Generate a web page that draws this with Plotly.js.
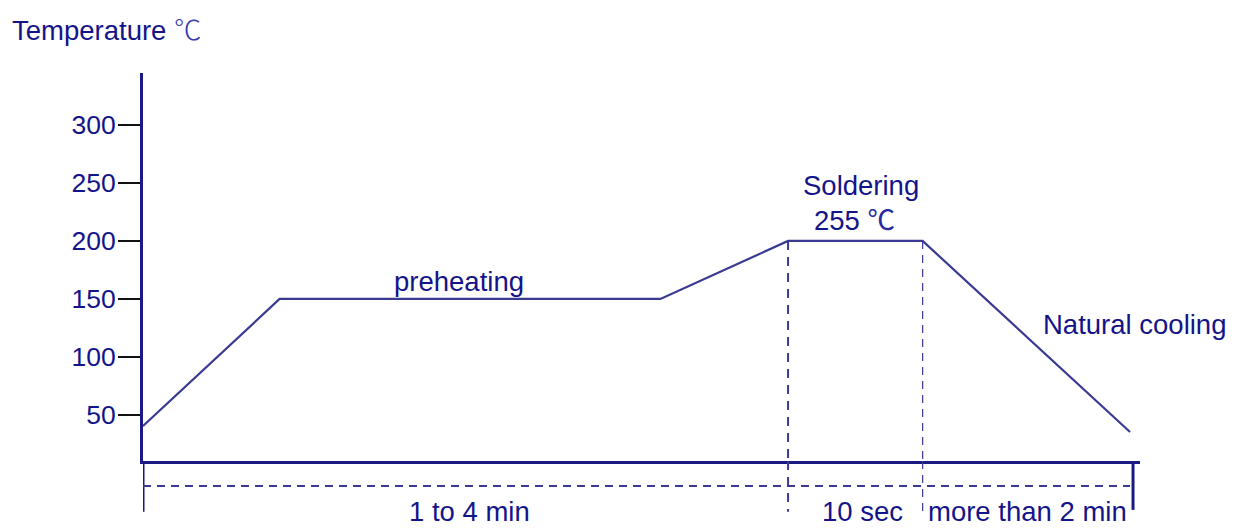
<!DOCTYPE html>
<html>
<head>
<meta charset="utf-8">
<script src="https://cdn.plot.ly/plotly-3.0.1.min.js"></script>
<style>html,body{margin:0;padding:0;background:#fff;}#chart{width:1236px;height:529px;}</style>
</head>
<body>
<div id="chart"></div>
<script>
// Reflow soldering profile (schematic)
var profileTime = [0, 13.7, 51.9, 64.7, 78.2, 99.0];
var profileTemp = [40.5, 150, 150, 200, 200, 35.3];
var yTickVals = [50, 100, 150, 200, 250, 300];
var yTickText = ['50', '100', '150', '200', '250', '300'];
var solderStart = 64.7;
var solderEnd = 78.2;
var solderTemp = 200;

var navy = '#14148a';
var lineCol = '#3a3a92';
var fontFam = 'Liberation Sans, Arial, sans-serif';
var fs = 27.5;

var trace = {
  x: profileTime, y: profileTemp, type: 'scatter', mode: 'lines',
  line: {color: lineCol, width: 2.2}, hoverinfo: 'skip', showlegend: false
};

var yMin = 10.3, yMax = 344.8;

function ann(text, x, y, xref, yref, xanchor, yanchor) {
  return {text: text, x: x, y: y, xref: xref, yref: yref, showarrow: false,
    xanchor: xanchor || 'center', yanchor: yanchor || 'middle',
    font: {family: fontFam, size: fs, color: navy}};
}

var layout = {
  width: 1236, height: 529,
  margin: {l: 143, r: 96, t: 73, b: 68, pad: 0},
  paper_bgcolor: '#ffffff', plot_bgcolor: '#ffffff',
  showlegend: false,
  xaxis: {range: [0, 100], showgrid: false, zeroline: false, showticklabels: false,
    ticks: '', showline: true, linecolor: '#1a1a82', linewidth: 3, fixedrange: true},
  yaxis: {range: [yMin, yMax], showgrid: false, zeroline: false,
    tickvals: yTickVals, ticktext: yTickText, ticks: 'outside', ticklen: 22,
    tickwidth: 1.5, tickcolor: '#111111', showline: true, linecolor: '#1a1a82', linewidth: 3,
    ticklabelstandoff: -3,
    tickfont: {family: fontFam, size: 26.5, color: navy}, fixedrange: true},
  shapes: [
    // left vertical extension below axis
    {type: 'line', xref: 'x', yref: 'paper', x0: 0.05, x1: 0.05, y0: 0, y1: -0.131,
      line: {color: '#1a1a82', width: 2}},
    // right end tick
    {type: 'line', xref: 'x', yref: 'paper', x0: 99.3, x1: 99.3, y0: 0, y1: -0.126,
      line: {color: '#1a1a82', width: 3}},
    // horizontal dashed time line
    {type: 'line', xref: 'x', yref: 'paper', x0: 0, x1: 99.0, y0: -0.0645, y1: -0.0645,
      line: {color: lineCol, width: 2, dash: '8px,6px'}},
    // vertical dashed at soldering start
    {type: 'line', xref: 'x', yref: 'y', x0: solderStart, x1: solderStart, y0: solderTemp, y1: yMin,
      line: {color: lineCol, width: 2, dash: '9px,7px'}},
    {type: 'line', xref: 'x', yref: 'paper', x0: solderStart, x1: solderStart, y0: 0, y1: -0.131,
      line: {color: lineCol, width: 2, dash: '9px,7px'}},
    // vertical dashed at soldering end
    {type: 'line', xref: 'x', yref: 'y', x0: solderEnd, x1: solderEnd, y0: solderTemp, y1: yMin,
      line: {color: lineCol, width: 1.2, dash: '8px,6px'}},
    {type: 'line', xref: 'x', yref: 'paper', x0: solderEnd, x1: solderEnd, y0: 0, y1: -0.14,
      line: {color: lineCol, width: 1.2, dash: '8px,6px'}}
  ],
  annotations: [
    ann('Temperature <span style="font-family:Noto Sans CJK SC;font-weight:300;color:#3a3ab0">℃</span>', -0.133, 1.116, 'paper', 'paper', 'left'),
    ann('preheating', 31.7, 165, 'x', 'y'),
    ann('Soldering', 72.0, 248, 'x', 'y'),
    ann('255 <span style="font-family:Noto Sans CJK SC;color:#2a2aa0">℃</span>', 71.4, 220, 'x', 'y'),
    ann('Natural cooling', 99.4, 128.4, 'x', 'y'),
    ann('Time', 102.7, 11.2, 'x', 'y', 'left'),
    ann('1 to 4 min', 32.7, -0.1745, 'x', 'paper', 'center', 'bottom'),
    ann('10 sec', 72.2, -0.1745, 'x', 'paper', 'center', 'bottom'),
    ann('more than 2 min', 88.7, -0.1745, 'x', 'paper', 'center', 'bottom')
  ]
};

Plotly.newPlot('chart', [trace], layout, {displayModeBar: false, staticPlot: true});
</script>
</body>
</html>
